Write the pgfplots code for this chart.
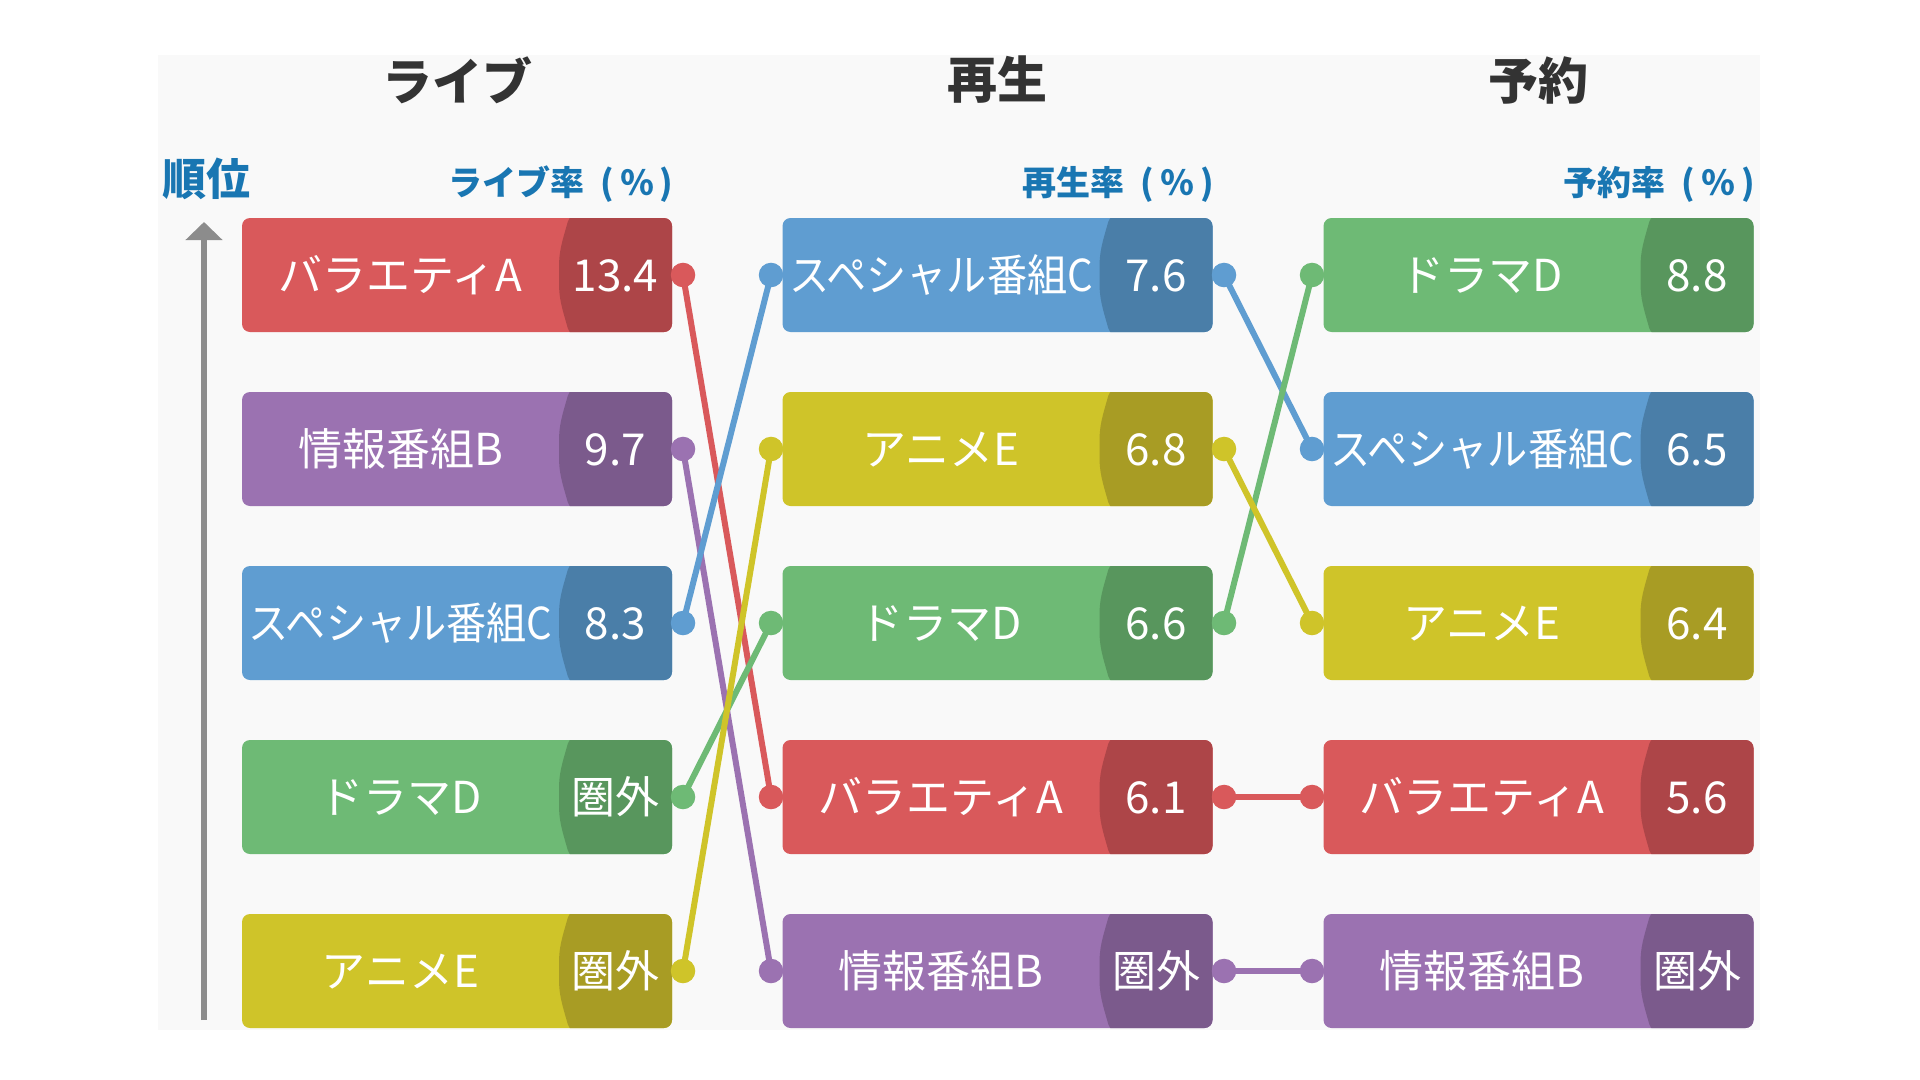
\documentclass[border=0pt]{standalone}
\usepackage{fontspec}
\setmainfont{Noto Sans CJK JP}
\usepackage{graphicx}
\usepackage{pgfplots}
\pgfplotsset{compat=1.18}
\usepackage{pgfplotstable}
\usetikzlibrary{arrows.meta}

\definecolor{redL}{RGB}{217,89,91}
\definecolor{redD}{RGB}{173,69,72}
\definecolor{purL}{RGB}{155,114,177}
\definecolor{purD}{RGB}{123,90,140}
\definecolor{bluL}{RGB}{95,157,209}
\definecolor{bluD}{RGB}{74,126,168}
\definecolor{grnL}{RGB}{110,186,117}
\definecolor{grnD}{RGB}{88,150,93}
\definecolor{yelL}{RGB}{207,196,41}
\definecolor{yelD}{RGB}{168,156,36}
\definecolor{hdr}{RGB}{25,118,178}
\definecolor{ttl}{RGB}{51,51,51}
\definecolor{bgc}{RGB}{249,249,249}
\definecolor{arr}{RGB}{140,140,140}

% one table per programme: x = column centre (px), rank, value
\pgfplotstableread{
x rank val
457 1 13.4
997.5 4 6.1
1538.5 4 5.6
}\progA
\pgfplotstableread{
x rank val
457 2 9.7
997.5 5 圏外
1538.5 5 圏外
}\progB
\pgfplotstableread{
x rank val
457 3 8.3
997.5 1 7.6
1538.5 2 6.5
}\progC
\pgfplotstableread{
x rank val
457 4 圏外
997.5 3 6.6
1538.5 1 8.8
}\progD
\pgfplotstableread{
x rank val
457 5 圏外
997.5 2 6.8
1538.5 3 6.4
}\progE

\newsavebox\namebox
\newcommand\fitname[1]{\sbox\namebox{#1}\ifdim\wd\namebox>152pt\resizebox{152pt}{\ht\namebox}{\usebox\namebox}\else\usebox\namebox\fi}
\newcommand\rate[1]{#1\hspace{8pt}(\hspace{3pt}％\hspace{3pt})}

\pgfplotsset{
  boxes/.style n args={3}{only marks, mark=*, mark size=0pt, mark options={draw=none,fill=none},
    point meta=explicit symbolic,
    nodes near coords={\rule[-0.12em]{0pt}{1em}\makebox[158.5pt]{\fitname{#3}}\makebox[56.5pt]{\pgfplotspointmeta}},
    every node near coord/.append style={anchor=center, inner sep=0pt, outer sep=0pt,
      rounded corners=4pt, fill=#1, draw=none, minimum height=57pt, text=white,
      font=\fontsize{22pt}{26pt}\selectfont,
      path picture={
        \path[fill=#2, draw=none]
          ([xshift=-51pt,yshift=2pt]path picture bounding box.north east)
          .. controls ([xshift=-55pt,yshift=-12pt]path picture bounding box.north east)
             and ([xshift=-56.5pt,yshift=12pt]path picture bounding box.east)
          .. ([xshift=-56.5pt]path picture bounding box.east)
          .. controls ([xshift=-56.5pt,yshift=-12pt]path picture bounding box.east)
             and ([xshift=-55pt,yshift=12pt]path picture bounding box.south east)
          .. ([xshift=-51pt,yshift=-2pt]path picture bounding box.south east)
          -- ([xshift=2pt,yshift=-2pt]path picture bounding box.south east)
          -- ([xshift=2pt,yshift=2pt]path picture bounding box.north east) -- cycle;
      }},
  },
  conn/.style={#1, line width=3pt, mark=*, mark size=4.6pt, mark options={draw=none, fill=#1}},
}

\begin{document}
\begin{tikzpicture}
\begin{axis}[
  scale only axis, width=960pt, height=540pt,
  xmin=0, xmax=1920, ymin=-0.58046, ymax=5.62644, y dir=reverse,
  hide axis, clip=false,
]
% background
\addplot[fill=bgc, draw=none] coordinates {(158,-0.26437)(1760,-0.26437)(1760,5.33908)(158,5.33908)} -- cycle;

% rank arrow
\addplot[arr, line width=3pt, -{Triangle[width=18pt,length=9pt]}] coordinates {(204,5.28161)(204,0.69540)};

% boxes
\addplot[boxes={redL}{redD}{バラエティA}] table[x=x, y=rank, meta=val] {\progA};
\addplot[boxes={purL}{purD}{情報番組B}] table[x=x, y=rank, meta=val] {\progB};
\addplot[boxes={bluL}{bluD}{スペシャル番組C}] table[x=x, y=rank, meta=val] {\progC};
\addplot[boxes={grnL}{grnD}{ドラマD}] table[x=x, y=rank, meta=val] {\progD};
\addplot[boxes={yelL}{yelD}{アニメE}] table[x=x, y=rank, meta=val] {\progE};

% connecting lines (rank in ライブ -> 再生 -> 予約)
\addplot[conn=redL] coordinates {(683,1)(771,4)};
\addplot[conn=redL] coordinates {(1224,4)(1312,4)};
\addplot[conn=purL] coordinates {(683,2)(771,5)};
\addplot[conn=purL] coordinates {(1224,5)(1312,5)};
\addplot[conn=bluL] coordinates {(683,3)(771,1)};
\addplot[conn=bluL] coordinates {(1224,1)(1312,2)};
\addplot[conn=grnL] coordinates {(683,4)(771,3)};
\addplot[conn=grnL] coordinates {(1224,3)(1312,1)};
\addplot[conn=yelL] coordinates {(683,5)(771,2)};
\addplot[conn=yelL] coordinates {(1224,2)(1312,3)};

% titles
\node[font=\bfseries\fontsize{25pt}{30pt}\selectfont, text=ttl] at (axis cs:457,-0.12069) {ライブ};
\node[font=\bfseries\fontsize{25pt}{30pt}\selectfont, text=ttl] at (axis cs:997.5,-0.12069) {再生};
\node[font=\bfseries\fontsize{25pt}{30pt}\selectfont, text=ttl] at (axis cs:1538.5,-0.12069) {予約};
% sub headers
\node[font=\bfseries\fontsize{17pt}{20pt}\selectfont, text=hdr, anchor=east, inner sep=0pt] at (axis cs:674,0.47701) {\rate{ライブ率}};
\node[font=\bfseries\fontsize{17pt}{20pt}\selectfont, text=hdr, anchor=east, inner sep=0pt] at (axis cs:1214,0.47701) {\rate{再生率}};
\node[font=\bfseries\fontsize{17pt}{20pt}\selectfont, text=hdr, anchor=east, inner sep=0pt] at (axis cs:1755,0.47701) {\rate{予約率}};
\node[font=\bfseries\fontsize{22pt}{26pt}\selectfont, text=hdr] at (axis cs:206,0.45) {順位};
\end{axis}
\pgfresetboundingbox
\path[use as bounding box] (current axis.south west) rectangle (current axis.north east);
\end{tikzpicture}
\end{document}
